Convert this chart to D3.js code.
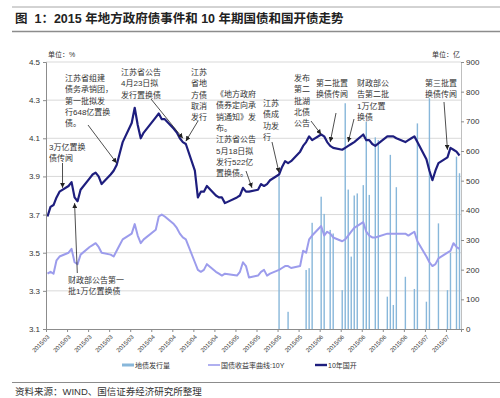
<!DOCTYPE html>
<html>
<head>
<meta charset="utf-8">
<script src="https://cdn.jsdelivr.net/npm/d3@7"></script>
<style>
  body { margin: 0; background: #fff; }
  svg { display: block; font-family: "Liberation Sans", Arial, "Noto Sans CJK SC", sans-serif; }
</style>
</head>
<body>
<div id="chart"></div>
<script>
// trading days (2015), yields in %, issuance in 亿
const tradeDays = [
  '03-02','03-03','03-04','03-05','03-06','03-09','03-10','03-11','03-12','03-13',
  '03-16','03-17','03-18','03-19','03-20','03-23','03-24','03-25','03-26','03-27',
  '03-30','03-31','04-01','04-02','04-03','04-07','04-08','04-09','04-10',
  '04-13','04-14','04-15','04-16','04-17','04-20','04-21','04-22','04-23','04-24',
  '04-27','04-28','04-29','04-30','05-04','05-05','05-06','05-07','05-08',
  '05-11','05-12','05-13','05-14','05-15','05-18','05-19','05-20','05-21','05-22',
  '05-25','05-26','05-27','05-28','05-29','06-01','06-02','06-03','06-04','06-05',
  '06-08','06-09','06-10','06-11','06-12','06-15','06-16','06-17','06-18','06-19',
  '06-23','06-24','06-25','06-26','06-29','06-30','07-01','07-02','07-03',
  '07-06','07-07','07-08','07-09','07-10','07-13','07-14','07-15','07-16','07-17'
];

// 10年国开
const gkYield = [
  3.69,3.74,3.75,3.79,3.82,3.85,3.87,3.79,3.77,3.83,
  3.89,3.91,3.92,3.90,3.86,3.91,3.93,3.96,4.02,4.08,
  4.18,4.26,4.17,4.10,4.13,4.21,4.23,4.20,4.20,
  4.15,4.13,4.10,4.08,4.07,3.93,3.79,3.82,3.82,3.85,
  3.80,3.79,3.79,3.76,3.79,3.80,3.84,3.82,3.82,
  3.83,3.86,3.85,3.86,3.88,3.91,3.95,3.98,3.97,3.98,
  4.03,4.06,4.08,4.11,4.09,4.12,4.11,4.08,4.06,4.05,
  4.04,4.05,4.06,4.07,4.08,4.12,4.09,4.09,4.07,4.06,
  4.11,4.11,4.11,4.10,4.08,4.09,4.10,4.11,4.08,
  3.99,3.93,3.88,3.93,3.97,4.00,4.05,4.04,4.03,4.01
];

// 国债收益率曲线:10Y
const gzYield = [
  3.39,3.40,3.39,3.46,3.48,3.50,3.52,3.45,3.44,3.49,
  3.53,3.54,3.55,3.53,3.50,3.49,3.48,3.51,3.54,3.57,
  3.60,3.65,3.59,3.55,3.57,3.62,3.69,3.70,3.69,
  3.65,3.63,3.60,3.58,3.57,3.45,3.41,3.40,3.41,3.44,
  3.40,3.39,3.38,3.39,3.38,3.40,3.45,3.43,3.37,
  3.38,3.40,3.41,3.38,3.39,3.41,3.42,3.43,3.43,3.42,
  3.43,3.51,3.50,3.57,3.59,3.64,3.59,3.61,3.60,3.58,
  3.56,3.57,3.59,3.61,3.63,3.66,3.61,3.59,3.58,3.58,
  3.60,3.60,3.60,3.60,3.60,3.59,3.60,3.61,3.56,
  3.48,3.45,3.43,3.44,3.47,3.50,3.51,3.55,3.53,3.52
];

// 地债发行量
const issueDays = [
  '05-18','05-21','05-27','05-28','05-29','06-01','06-02','06-04','06-05',
  '06-08','06-09','06-10','06-11','06-12','06-13','06-15','06-16','06-17',
  '06-19','06-20','06-23','06-24','06-25','06-26','06-29','07-02','07-03',
  '07-06','07-07','07-10','07-13','07-14','07-16','07-17'
];
const issueAmt = [
  515,58,199,205,358,446,388,334,322,
  131,761,470,244,450,457,485,699,452,
  646,637,109,587,81,478,176,135,693,
  92,778,356,131,257,581,525
];

const tickDays = [
  '03-02','03-09','03-16','03-23','03-30','04-06','04-13','04-20','04-27','05-04',
  '05-11','05-18','05-25','06-01','06-08','06-15','06-22','06-29','07-06','07-13'
];
const leftTicks = [3.1, 3.3, 3.5, 3.7, 3.9, 4.1, 4.3, 4.5];
const rightTicks = [0, 100, 200, 300, 400, 500, 600, 700, 800, 900];

const legendItems = ['地债发行量', '国债收益率曲线:10Y', '10年国开'];

// event notes: text lines, text origin, arrow start, arrow tip (day, yield)
const notes = [
  { lines: ['3万亿置换', '债传闻'], tx: 49, ty: 147, from: [62.5, 163], tip: ['03-07', 3.84] },
  { lines: ['江苏省组建', '债务承销团，', '第一批拟发', '行648亿置换', '债。'], tx: 65, ty: 78, from: [88, 125], tip: ['03-25', 3.97] },
  { lines: ['江苏省公告', '4月23日拟', '发行置换债'], tx: 121, ty: 72, from: [151, 99], tip: ['04-16', 4.10] },
  { lines: ['江苏', '省地', '方债', '取消', '发行'], tx: 191, ty: 72, from: [198, 121], tip: ['04-17', 4.085] },
  { lines: ['《地方政府', '债券定向承', '销通知》发', '布。', '江苏省公告', '5月18日拟', '发行522亿', '置换债。'], tx: 216, ty: 94, from: [246, 171], tip: ['05-09', 3.84] },
  { lines: ['江苏', '债成', '功发', '行'], tx: 263, ty: 103, from: [272, 142], tip: ['05-18', 3.92] },
  { lines: ['发布', '第二', '批湖', '北债', '公告'], tx: 294, ty: 78, from: [311, 121], tip: ['06-01', 4.12] },
  { lines: ['第二批置', '换债传闻'], tx: 316, ty: 82.5, from: [336, 113], tip: ['06-04', 4.08] },
  { lines: ['财政部公', '告第二批', '1万亿置', '换债'], tx: 357, ty: 83, from: [354, 119], tip: ['06-10', 4.08] },
  { lines: ['第三批置', '换债传闻'], tx: 425, ty: 82.5, from: [444, 102], tip: ['07-13', 4.04] },
  { lines: ['财政部公告第一', '批1万亿置换债'], tx: 68, ty: 280, from: [77.3, 273], tip: ['03-11', 3.76] }
];

const W = 500, H = 398;
const plot = { left: 46, right: 461, top: 62, bottom: 329 };
const colors = { gk: '#1e1e7e', gz: '#9c9cec', bar: '#88b7da', grid: '#d9d9d9', axis: '#8c8c8c', text: '#333' };

const parse = d3.utcParse('%Y-%m-%d');
const dayOf = s => parse('2015-' + s);
const midOf = s => d3.utcHour.offset(dayOf(s), 12);

const x = d3.scaleUtc()
  .domain([dayOf('03-02'), dayOf('07-18')])
  .range([plot.left, plot.right]);
const yL = d3.scaleLinear().domain([3.1, 4.5]).range([plot.bottom, plot.top]);
const yR = d3.scaleLinear().domain([0, 900]).range([plot.bottom, plot.top]);

const svg = d3.select('#chart').append('svg')
  .attr('width', W).attr('height', H)
  .style('background', '#fff');

const defs = svg.append('defs');
defs.append('marker')
  .attr('id', 'ah')
  .attr('viewBox', '0 0 6 6')
  .attr('refX', 6).attr('refY', 3)
  .attr('markerWidth', 5).attr('markerHeight', 5)
  .attr('markerUnits', 'userSpaceOnUse')
  .attr('orient', 'auto')
  .append('path').attr('d', 'M0,0L6,3L0,6Z').attr('fill', '#222');

// Header
svg.append('line').attr('x1', 12).attr('x2', W).attr('y1', 7).attr('y2', 7)
  .style('stroke', '#a6a6a6').style('stroke-width', 1);
svg.append('text')
  .attr('x', 15).attr('y', 22.5)
  .style('font-size', '12.5px').style('font-weight', 'bold').style('fill', '#222')
  .style('white-space', 'pre')
  .text('图  1：2015 年地方政府债事件和 10 年期国债和国开债走势');
svg.append('line').attr('x1', 12).attr('x2', W).attr('y1', 31.5).attr('y2', 31.5)
  .style('stroke', '#8c8c8c').style('stroke-width', 1.5);

// Units
svg.append('text').attr('x', 48).attr('y', 56.5).style('font-size', '7px').style('fill', colors.text).text('单位：%');
svg.append('text').attr('x', 432).attr('y', 56.5).style('font-size', '7px').style('fill', colors.text).text('单位：亿');

// Grid lines
svg.append('g').selectAll('line')
  .data(leftTicks.filter(d => d > 3.1))
  .enter().append('line')
  .attr('x1', plot.left).attr('x2', plot.right)
  .attr('y1', d => yL(d)).attr('y2', d => yL(d))
  .style('stroke', colors.grid).style('stroke-width', 1);

// Bars
svg.append('g').selectAll('rect')
  .data(issueDays.map((d, i) => ({ date: midOf(d), v: issueAmt[i] })))
  .enter().append('rect')
  .attr('x', d => x(d.date) - 0.7)
  .attr('width', 1.4)
  .attr('y', d => yR(d.v))
  .attr('height', d => yR(0) - yR(d.v))
  .style('fill', colors.bar);

// Lines
const lineData = arr => tradeDays.map((d, i) => ({ date: midOf(d), v: arr[i] }));
const line = d3.line().x(d => x(d.date)).y(d => yL(d.v));

svg.append('path').datum(lineData(gzYield))
  .attr('d', line)
  .style('fill', 'none').style('stroke', colors.gz).style('stroke-width', 2)
  .style('stroke-linejoin', 'round');

svg.append('path').datum(lineData(gkYield))
  .attr('d', line)
  .style('fill', 'none').style('stroke', colors.gk).style('stroke-width', 2.2)
  .style('stroke-linejoin', 'round');

// Axes
const axL = svg.append('g')
  .attr('transform', `translate(${plot.left},0)`)
  .call(d3.axisLeft(yL).tickValues(leftTicks).tickSize(3).tickFormat(d3.format('.1f')));
const axR = svg.append('g')
  .attr('transform', `translate(${plot.right},0)`)
  .call(d3.axisRight(yR).tickValues(rightTicks).tickSize(3).tickPadding(2));
const axX = svg.append('g')
  .attr('transform', `translate(0,${plot.bottom})`)
  .call(d3.axisBottom(x).tickValues(tickDays.map(dayOf)).tickSize(3).tickFormat(d3.utcFormat('%Y/%m')));

[axL, axR, axX].forEach(ax => {
  ax.select('.domain').style('stroke', colors.axis);
  ax.selectAll('.tick line').style('stroke', colors.axis);
  ax.selectAll('text').style('fill', colors.text).style('font-family', '"Liberation Sans", Arial, sans-serif');
});
axL.selectAll('text').style('font-size', '8px');
axR.selectAll('text').style('font-size', '8px');
axR.select('.domain').style('stroke', '#bfbfbf');
axX.selectAll('text')
  .style('font-size', '6px')
  .style('text-anchor', 'end')
  .attr('x', null).attr('y', null).attr('dy', '0.35em')
  .attr('transform', 'translate(2,7) rotate(-45)');

// Event notes
const ng = svg.append('g');
notes.forEach(n => {
  const t = ng.append('text')
    .attr('x', n.tx).attr('y', n.ty + 3)
    .style('font-size', '8px').style('fill', colors.text);
  n.lines.forEach((l, i) => {
    t.append('tspan').attr('x', n.tx).attr('dy', i === 0 ? 0 : 11.3).text(l);
  });
  ng.append('line')
    .attr('x1', n.from[0]).attr('y1', n.from[1])
    .attr('x2', x(midOf(n.tip[0]))).attr('y2', yL(n.tip[1]))
    .style('stroke', '#222').style('stroke-width', 0.8)
    .attr('marker-end', 'url(#ah)');
});

// Legend
const legend = svg.append('g').attr('transform', 'translate(0,365)');
const legendX = [122, 208, 315];
const legendStyle = [
  { c: colors.bar, w: 3 },
  { c: colors.gz, w: 1.6 },
  { c: colors.gk, w: 2.4 }
];
legendItems.forEach((name, i) => {
  legend.append('line')
    .attr('x1', legendX[i]).attr('x2', legendX[i] + 12)
    .attr('y1', 0).attr('y2', 0)
    .style('stroke', legendStyle[i].c).style('stroke-width', legendStyle[i].w);
  legend.append('text')
    .attr('x', legendX[i] + 13).attr('y', 2.5)
    .style('font-size', '7px').style('fill', colors.text)
    .text(name);
});

// Source
svg.append('line').attr('x1', 12).attr('x2', W).attr('y1', 382.5).attr('y2', 382.5)
  .style('stroke', '#8c8c8c').style('stroke-width', 1);
svg.append('text').attr('x', 15).attr('y', 395)
  .style('font-size', '9.5px').style('fill', colors.text)
  .text('资料来源：WIND、国信证券经济研究所整理');
</script>
</body>
</html>
